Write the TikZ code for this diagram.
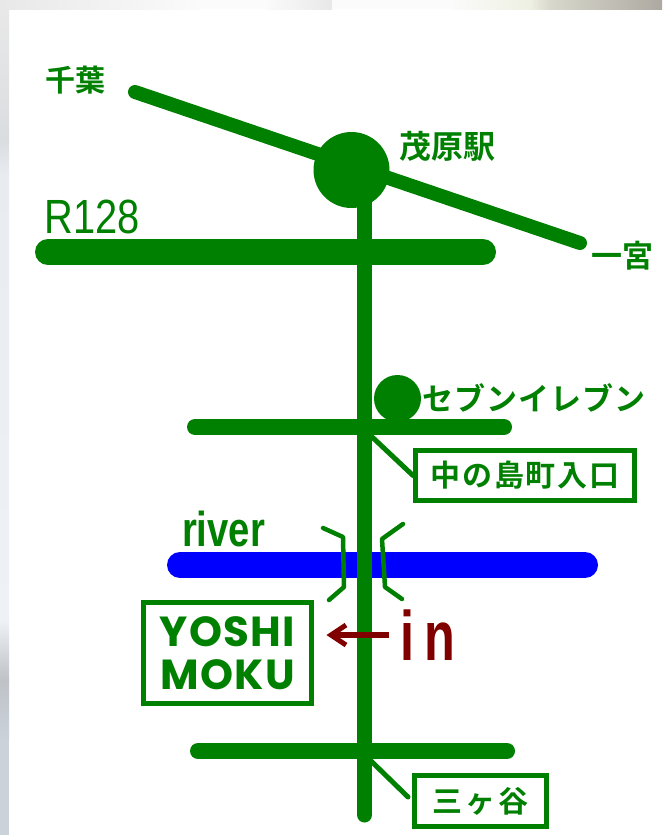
\documentclass[tikz,border=0pt]{standalone}
\usepackage{fontspec}
\setmainfont{Liberation Sans}
\newfontfamily\jpfont{Noto Sans CJK JP}[BoldFont={Noto Sans CJK JP Bold}]
\newfontfamily\logofont{Poppins}[BoldFont={Poppins Bold}]
\definecolor{roadgreen}{HTML}{008000}
\definecolor{riverblue}{HTML}{0000FF}
\definecolor{inred}{HTML}{800000}
\definecolor{edgeA}{HTML}{E8E8E8}
\definecolor{edgeB}{HTML}{DADDE0}
\definecolor{edgeC}{HTML}{E8ECF0}
\definecolor{edgeD}{HTML}{EEF2F6}
\definecolor{edgeE}{HTML}{BFC3C8}
\definecolor{edgeF}{HTML}{CBD2DA}
\definecolor{topA}{HTML}{FBFBFB}
\definecolor{topB}{HTML}{E8E8E8}
\definecolor{topC}{HTML}{EEF0E2}
\definecolor{topD}{HTML}{D8D8CC}
\definecolor{topE}{HTML}{ADA9A2}
\tikzset{
  road/.style={draw=roadgreen,line cap=round,line width=#1},
  bridgeline/.style={draw=roadgreen,line width=4.5pt,line join=round,line cap=round},
  signbox/.style={draw=roadgreen,line width=5pt,fill=white,inner sep=0pt,minimum height=#1,text=roadgreen},
  jplabel/.style={text=roadgreen,inner sep=0pt,font=\jpfont\bfseries\fontsize{30}{30}\selectfont},
  leader/.style={draw=roadgreen,line width=5pt,line cap=round},
  spot/.style={circle,fill=roadgreen,inner sep=0pt}
}
\begin{document}
\begin{tikzpicture}[x=1pt,y=-1pt]
\useasboundingbox (0,0) rectangle (662,835);
\fill[white] (0,0) rectangle (662,835);
% soft photographic edge, top
\shade[left color=topB,right color=topA] (0,0) rectangle (200,9);
\fill[topA] (200,0) rectangle (265,9);
\shade[left color=topA,right color=topB] (265,0) rectangle (332,9);
\fill[topA] (332,0) rectangle (450,9);
\shade[left color=topA,right color=topC] (450,0) rectangle (530,9);
\shade[left color=topC,right color=topD] (530,0) rectangle (550,9);
\shade[left color=topD,right color=topE] (550,0) rectangle (662,9);
% soft photographic edge, left
\shade[top color=edgeA,bottom color=edgeB] (0,9) rectangle (9,140);
\shade[top color=edgeB,bottom color=edgeC] (0,140) rectangle (9,175);
\shade[top color=edgeC,bottom color=edgeD] (0,175) rectangle (9,620);
\shade[top color=edgeD,bottom color=edgeE] (0,620) rectangle (9,680);
\shade[top color=edgeE,bottom color=edgeF] (0,680) rectangle (9,740);
\fill[edgeF] (0,740) rectangle (9,835);
% coordinates
\coordinate (ch) at (135,92); \coordinate (ic) at (580,243);
\coordinate (rw) at (48,252); \coordinate (re) at (483,252);
\coordinate (vt) at (364.5,170); \coordinate (vb) at (364.5,815);
\coordinate (nw) at (195,427); \coordinate (ne) at (504,427);
\coordinate (sw) at (198,751); \coordinate (se) at (507,751);
\coordinate (rvw) at (180,565); \coordinate (rve) at (585,565);
\coordinate (nj) at (370,435); \coordinate (sj) at (370,760);
% river and roads
\draw[road=26pt,draw=riverblue] (rvw) -- (rve);
\draw[road=14pt] (ch) -- (ic);
\node[spot,minimum size=76pt] (station) at (351.5,170) {};
\draw[road=26pt] (rw) -- (re);
\draw[road=16pt] (nw) -- (ne);
\draw[road=16pt] (sw) -- (se);
\draw[road=15pt] (vt) -- (vb);
\node[spot,minimum size=47pt] (seven) at (397.5,398.5) {};
% bridge
\draw[bridgeline] (323,528) -- (343,537) -- (344,587) -- (329,600);
\draw[bridgeline] (403,524) -- (382,539) -- (385,587) -- (402,599);
% boxes
\node[signbox=50pt,minimum width=219pt,font=\jpfont\bfseries\fontsize{30}{30}\selectfont] (naka) at (525,475.5) {\addfontfeature{LetterSpace=6}中の島町入口};
\node[signbox=51pt,minimum width=132pt,font=\jpfont\bfseries\fontsize{30}{30}\selectfont] (sanga) at (480.5,801) {\addfontfeature{LetterSpace=10}三ヶ谷};
\node[signbox=101pt,minimum width=168pt,align=center,font=\logofont\bfseries\fontsize{42}{43}\selectfont] (yoshi) at (227.5,653) {\addfontfeature{LetterSpace=3}YOSHI\\\addfontfeature{LetterSpace=3}MOKU};
% leaders
\draw[leader] (nj) -- (naka.west);
\draw[leader] (sj) -- (408,797);
% labels
\node[jplabel] (chiba) at (75.5,80) {千葉};
\node[jplabel,font=\jpfont\bfseries\fontsize{32}{32}\selectfont] (mobara) at (447,146) {茂原駅};
\node[jplabel,font=\jpfont\bfseries\fontsize{31}{31}\selectfont] (ichi) at (622,256) {一宮};
\node[jplabel,font=\jpfont\bfseries\fontsize{31}{31}\selectfont] (eleven) at (534,398) {\addfontfeature{LetterSpace=3}セブンイレブン};
\node[text=roadgreen,inner sep=0pt,xscale=.83,font=\fontsize{48}{48}\selectfont] (r128) at (92,216.5) {R128};
\node[text=roadgreen,inner sep=0pt,xscale=.78,anchor=base,font=\bfseries\fontsize{49}{49}\selectfont] (riverlbl) at (223.5,546) {river};
\node[text=inred,inner sep=0pt,xscale=.72,anchor=base,font=\bfseries\fontsize{70}{70}\selectfont] (inlbl) at (427.5,660) {i\kern14pt n};
% arrow
\coordinate (arrowstart) at (389,635); \coordinate (arrowtip) at (331,635);
\draw[draw=inred,line width=6pt] (arrowstart) -- (arrowtip);
\draw[draw=inred,line width=5pt,line join=miter] (346,625) -- (arrowtip) -- (346,645);
\end{tikzpicture}
\end{document}
